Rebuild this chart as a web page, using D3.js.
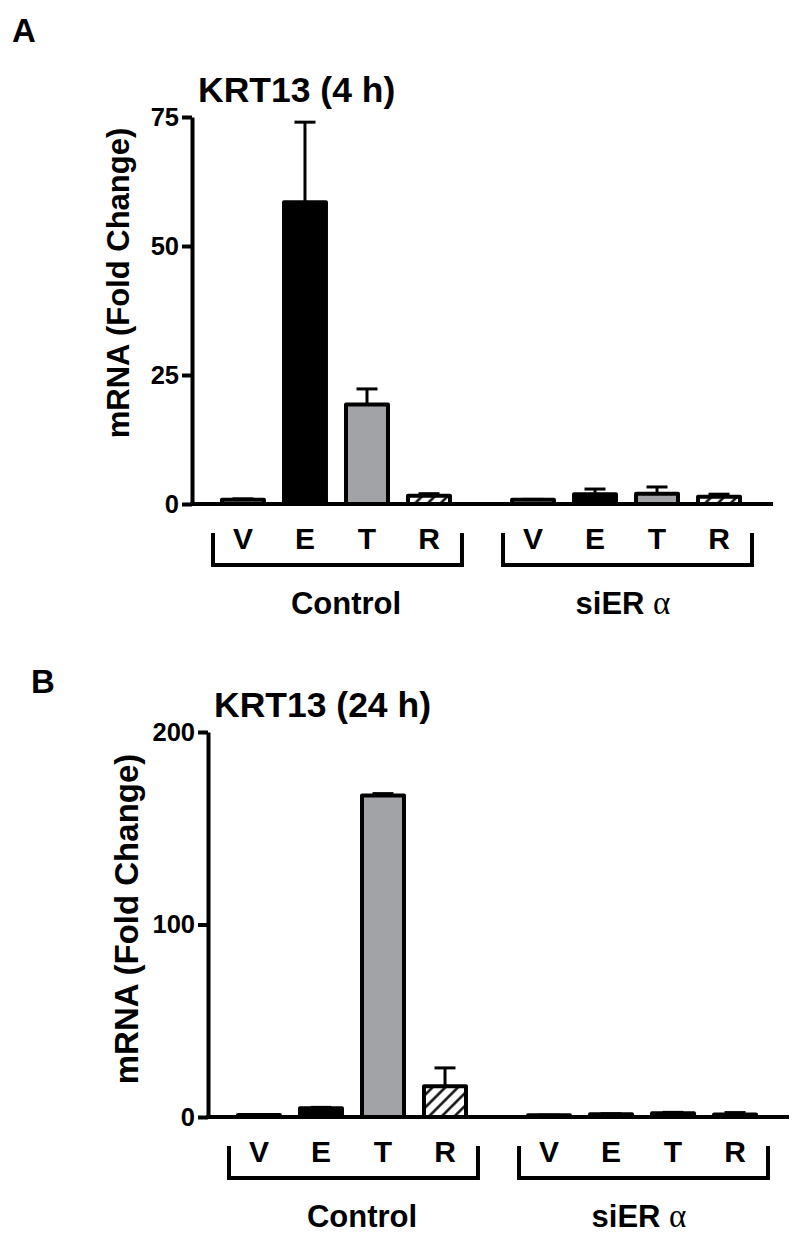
<!DOCTYPE html>
<html>
<head>
<meta charset="utf-8">
<script src="https://cdn.jsdelivr.net/npm/d3@7"></script>
<style>
  body { margin: 0; background: #fff; }
  svg text { font-family: "Liberation Sans", Arial, Helvetica, sans-serif; font-weight: bold; fill: #000; }
</style>
</head>
<body>
<svg id="fig" width="800" height="1238"></svg>
<script>
// data
var groups = ["Control", "siER\u03b1"];
var treatments = ["V", "E", "T", "R"];
var fills = ["#fff", "#000", "#a2a3a6", "url(#hatch)"];

// panel A: KRT13 4 h, mean and upper error, per group
var meanA = [[0.8, 58.5, 19.3, 1.6], [0.8, 1.9, 2.0, 1.4]];
var errA  = [[0.2, 15.5, 3.0, 0.4], [0.1, 1.0, 1.3, 0.5]];
var ticksA = [0, 25, 50, 75];

// panel B: KRT13 24 h
var meanB = [[1.0, 4.6, 167, 16], [0.9, 1.4, 2.0, 1.3]];
var errB  = [[0.2, 0.4, 1.0, 9.5], [0.1, 0.3, 0.4, 1.0]];
var ticksB = [0, 100, 200];

var svg = d3.select("#fig");

// hatch for the R bars
svg.append("defs").append("pattern")
    .attr("id", "hatch")
    .attr("patternUnits", "userSpaceOnUse")
    .attr("width", 9).attr("height", 9)
    .attr("patternTransform", "rotate(45)")
  .call(function(p){
    p.append("rect").attr("width", 9).attr("height", 9).attr("fill", "#fff");
    p.append("line").attr("x1", 4.5).attr("x2", 4.5).attr("y1", 0).attr("y2", 9)
      .attr("stroke", "#000").attr("stroke-width", 2.4);
  });

function panel(cfg) {
  var g = svg.append("g");
  var y = d3.scaleLinear().domain([0, d3.max(cfg.ticks)]).range([cfg.y0, cfg.yTop]);
  var gx = d3.scaleBand().domain(groups).range([cfg.ax + 20, cfg.ax + 558]).paddingInner(0.145);
  var tx = d3.scaleBand().domain(treatments).range([0, gx.bandwidth()])
      .paddingInner(0.323).paddingOuter(0.161);

  // panel letter and title
  g.append("text").attr("x", cfg.letterX).attr("y", cfg.letterY)
    .style("font-size", "33px").text(cfg.letter);
  g.append("text").attr("x", cfg.ax + 6).attr("y", cfg.yTop - 15)
    .style("font-size", "35.5px").text(cfg.title);

  // y axis
  var yAxis = g.append("g").attr("transform", "translate(" + cfg.ax + ",0)")
    .call(d3.axisLeft(y).tickValues(cfg.ticks).tickSize(10).tickSizeOuter(0).tickPadding(3));
  yAxis.select(".domain").attr("stroke", "#000").attr("stroke-width", 4);
  yAxis.selectAll(".tick line").attr("stroke", "#000").attr("stroke-width", 4);
  yAxis.selectAll(".tick text")
    .style("font-family", "'Liberation Sans', Arial, sans-serif")
    .style("font-weight", "bold").style("font-size", "25.5px");

  g.append("text")
    .attr("transform", "translate(" + cfg.labX + "," + cfg.labY + ") rotate(-90)")
    .attr("text-anchor", "middle")
    .style("font-size", cfg.labSize + "px")
    .text("mRNA (Fold Change)");

  // bars
  groups.forEach(function(grp, gi) {
    var gg = g.append("g").attr("transform", "translate(" + gx(grp) + ",0)");
    var rows = treatments.map(function(t, i) {
      return { t: t, v: cfg.mean[gi][i], e: cfg.err[gi][i], fill: fills[i] };
    });

    gg.selectAll("line.err").data(rows).enter().append("line")
      .attr("class", "err")
      .attr("x1", function(d){ return tx(d.t) + tx.bandwidth() / 2; })
      .attr("x2", function(d){ return tx(d.t) + tx.bandwidth() / 2; })
      .attr("y1", function(d){ return y(d.v); })
      .attr("y2", function(d){ return y(d.v + d.e); })
      .attr("stroke", "#000").attr("stroke-width", 3);
    gg.selectAll("line.cap").data(rows).enter().append("line")
      .attr("class", "cap")
      .attr("x1", function(d){ return tx(d.t) + tx.bandwidth() / 2 - 10.5; })
      .attr("x2", function(d){ return tx(d.t) + tx.bandwidth() / 2 + 10.5; })
      .attr("y1", function(d){ return y(d.v + d.e); })
      .attr("y2", function(d){ return y(d.v + d.e); })
      .attr("stroke", "#000").attr("stroke-width", 3);

    gg.selectAll("rect").data(rows).enter().append("rect")
      .attr("x", function(d){ return tx(d.t); })
      .attr("width", tx.bandwidth())
      .attr("y", function(d){ return y(d.v); })
      .attr("height", function(d){ return y(0) - y(d.v); })
      .attr("fill", function(d){ return d.fill; })
      .attr("stroke", "#000").attr("stroke-width", 4)
      .attr("stroke-linejoin", "round");

    // treatment letters
    gg.selectAll("text.tr").data(treatments).enter().append("text")
      .attr("class", "tr")
      .attr("x", function(t){ return tx(t) + tx.bandwidth() / 2; })
      .attr("y", cfg.y0 + 45)
      .attr("text-anchor", "middle")
      .style("font-size", "30px")
      .text(function(t){ return t; });

    // bracket
    var x1 = 1, x2 = gx.bandwidth() + 2;
    gg.append("path")
      .attr("d", "M" + x1 + "," + (cfg.y0 + 29) + "V" + (cfg.y0 + 61) +
                 "H" + x2 + "V" + (cfg.y0 + 29))
      .attr("fill", "none").attr("stroke", "#000").attr("stroke-width", 4);

    // group label
    var lab = gg.append("text")
      .attr("x", gx.bandwidth() / 2 + (gi === 0 ? 10 : -3))
      .attr("y", cfg.y0 + 110)
      .attr("text-anchor", "middle")
      .style("font-size", "31px");
    if (gi === 0) {
      lab.text(grp);
    } else {
      lab.append("tspan").text("siER ");
      lab.append("tspan")
        .style("font-family", "'Liberation Serif', 'Times New Roman', serif")
        .style("font-weight", "normal")
        .style("font-size", "33px")
        .text("\u03b1");
    }
  });

  // x axis line
  g.append("line")
    .attr("x1", cfg.ax - 2).attr("x2", cfg.ax + 581)
    .attr("y1", cfg.y0).attr("y2", cfg.y0)
    .attr("stroke", "#000").attr("stroke-width", 4);
}

panel({ letter: "A", letterX: 12, letterY: 42, title: "KRT13 (4 h)",
        ax: 192, y0: 504, yTop: 117, ticks: ticksA, mean: meanA, err: errA,
        labX: 129, labY: 283, labSize: 31 });
panel({ letter: "B", letterX: 31, letterY: 693, title: "KRT13 (24 h)",
        ax: 208, y0: 1117, yTop: 732, ticks: ticksB, mean: meanB, err: errB,
        labX: 138, labY: 919, labSize: 33 });
</script>
</body>
</html>
